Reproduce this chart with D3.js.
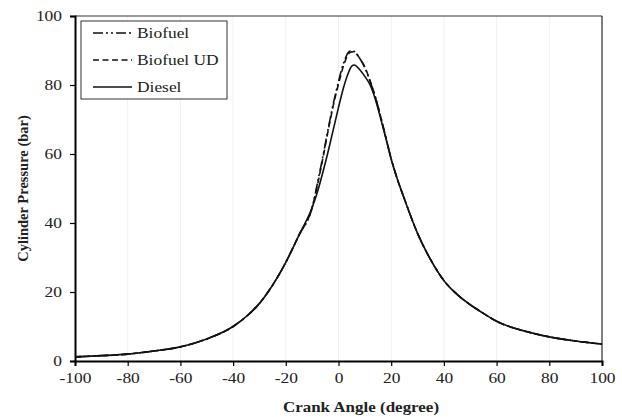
<!DOCTYPE html>
<html>
<head>
<meta charset="utf-8">
<script src="https://cdn.jsdelivr.net/npm/d3@7"></script>
<style>
  body { margin: 0; background: #fff; }
</style>
</head>
<body>
<div id="chart"></div>
<script>
  // crank angle (degree) where the curves were read
  var angles = [-100,-90,-80,-70,-60,-50,-40,-35,-30,-25,-20,-15,-10,-8,-6,-4,-2,0,2,4,5,6,8,10,12,14,16,18,20,22,25,30,35,40,45,50,55,60,70,80,90,100];
  // cylinder pressure (bar)
  var diesel    = [1.2,1.55,2.0,2.9,4.1,6.4,10.0,12.9,16.7,22.0,28.6,36.5,44.5,49,54.5,60.5,67,73.5,79.5,84,85.5,85.8,84.5,82.5,80,75.8,70.3,64.5,58.5,53.5,47,37,29.3,23.3,19.3,16.3,13.8,11.5,8.8,7.0,5.8,4.9];
  var biofuel   = [1.2,1.55,2.0,2.9,4.1,6.4,10.0,12.9,16.7,22.0,28.6,36.5,44.5,51.5,59,67,74.5,81,86.5,89.7,90.0,89.7,87.8,85,81,76.5,70.8,64.7,58.6,53.5,47,37,29.3,23.3,19.3,16.3,13.8,11.5,8.8,7.0,5.8,4.9];
  var biofuelUD = [1.2,1.55,2.0,2.9,4.1,6.4,10.0,12.9,16.7,22.0,28.6,36.5,44.5,51,58.5,66.5,74,80.3,85.8,89.2,89.6,89.5,87.8,85.2,81.2,76.5,70.8,64.7,58.6,53.5,47,37,29.3,23.3,19.3,16.3,13.8,11.5,8.8,7.0,5.8,4.9];
  var seriesNames = ["Biofuel", "Biofuel UD", "Diesel"];
  var xTicks = [-100,-80,-60,-40,-20,0,20,40,60,80,100];
  var yTicks = [0,20,40,60,80,100];

  var FONT = "'Liberation Serif', 'Times New Roman', serif";
  var width = 622;
  var height = 417;
  var margin = {top: 16, right: 20, bottom: 56, left: 75};
  var w = width - margin.left - margin.right;
  var h = height - margin.top - margin.bottom;

  // the source figure has its lettering a bit wide, stretch text sideways
  function widen(sel, k) {
    sel.each(function() {
      var len = this.getComputedTextLength();
      d3.select(this).attr("textLength", len * k).attr("lengthAdjust", "spacingAndGlyphs");
    });
  }

  var svg = d3.select("#chart")
              .append("svg")
              .attr("width", width)
              .attr("height", height);
  var g = svg.append("g").attr("transform", "translate(" + margin.left + "," + margin.top + ")");

  var x = d3.scaleLinear().domain([-100, 100]).range([0, w]);
  var y = d3.scaleLinear().domain([0, 100]).range([h, 0]);

  // faint vertical grid
  g.selectAll("line.grid")
    .data(xTicks.slice(1, -1))
    .enter()
    .append("line")
    .attr("class", "grid")
    .attr("x1", function(d) { return x(d); })
    .attr("x2", function(d) { return x(d); })
    .attr("y1", 0)
    .attr("y2", h)
    .style("stroke", "#f0f0f0")
    .style("stroke-width", 1);

  // plot border: top gray, right black
  g.append("line").attr("x1", 0).attr("x2", w).attr("y1", 0).attr("y2", 0)
    .style("stroke", "#777").style("stroke-width", 1.5);
  g.append("line").attr("x1", w).attr("x2", w).attr("y1", 0).attr("y2", h)
    .style("stroke", "#000").style("stroke-width", 1);

  var xAxis = g.append("g")
    .attr("transform", "translate(0," + h + ")")
    .call(d3.axisBottom(x).tickValues(xTicks).tickSize(5).tickPadding(7).tickFormat(function(d) { return String(d); }));
  var yAxis = g.append("g")
    .call(d3.axisLeft(y).tickValues(yTicks).tickSize(5).tickPadding(8).tickFormat(function(d) { return String(d); }));

  [xAxis, yAxis].forEach(function(a) {
    a.attr("font-family", null);
    a.select(".domain").style("stroke", "#000").style("stroke-width", 2);
    a.selectAll(".tick line").style("stroke", "#000").style("stroke-width", 1.2);
    a.selectAll(".tick text").style("font-size", "14.5px").style("font-family", FONT).style("fill", "#222");
    widen(a.selectAll(".tick text"), 1.2);
  });

  var line = d3.line()
    .x(function(d) { return x(d[0]); })
    .y(function(d) { return y(d[1]); })
    .curve(d3.curveMonotoneX);

  var series = [
    {name: seriesNames[0], values: biofuel,   dash: "10,3,2,3,2,3"},
    {name: seriesNames[1], values: biofuelUD, dash: "6,3.5"},
    {name: seriesNames[2], values: diesel,    dash: null}
  ];

  series.forEach(function(s) {
    g.append("path")
      .datum(angles.map(function(a, i) { return [a, s.values[i]]; }))
      .attr("d", line)
      .style("fill", "none")
      .style("stroke", "#111")
      .style("stroke-width", 1.6)
      .style("stroke-dasharray", s.dash);
  });

  // legend
  var legend = svg.append("g").attr("transform", "translate(81,21)");
  legend.append("rect")
    .attr("width", 146).attr("height", 78)
    .style("fill", "#fff").style("stroke", "#333").style("stroke-width", 1);
  series.forEach(function(s, i) {
    var ly = 12 + i * 27;
    legend.append("line")
      .attr("x1", 12).attr("x2", 51).attr("y1", ly).attr("y2", ly)
      .style("stroke", "#111").style("stroke-width", 1.6)
      .style("stroke-dasharray", s.dash);
    var t = legend.append("text")
      .attr("x", 56).attr("y", ly)
      .attr("dy", "0.35em")
      .style("font-family", FONT)
      .style("font-size", "14.5px")
      .style("fill", "#222")
      .text(s.name);
    widen(t, 1.2);
  });

  // axis titles
  var xt = svg.append("text")
    .attr("x", 361)
    .attr("y", 412)
    .attr("text-anchor", "middle")
    .style("font-family", FONT)
    .style("font-size", "14.5px")
    .style("font-weight", "bold")
    .style("fill", "#222")
    .text("Crank Angle (degree)");
  widen(xt, 1.17);
  svg.append("text")
    .attr("transform", "translate(28," + (margin.top + h / 2) + ") rotate(-90)")
    .attr("text-anchor", "middle")
    .style("font-family", FONT)
    .style("font-size", "14.5px")
    .style("font-weight", "bold")
    .style("fill", "#222")
    .text("Cylinder Pressure (bar)");
</script>
</body>
</html>
